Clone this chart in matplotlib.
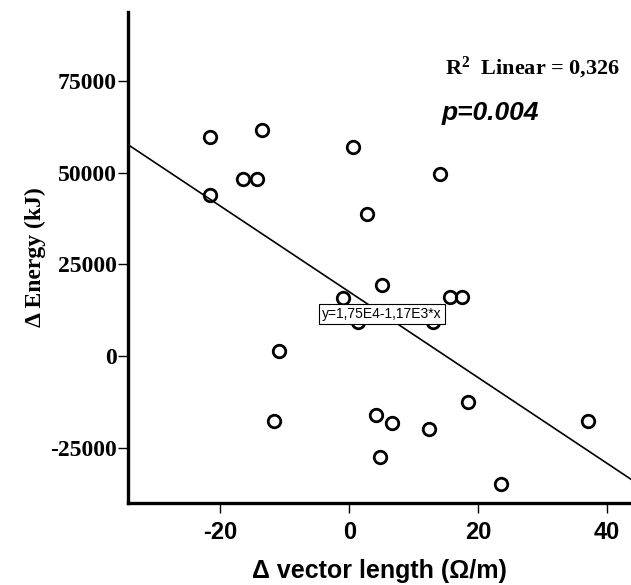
import matplotlib
matplotlib.use("Agg")
import matplotlib.pyplot as plt
import numpy as np

plt.rcParams['mathtext.fontset'] = 'custom'
plt.rcParams['mathtext.rm'] = 'Liberation Serif:bold'
plt.rcParams['mathtext.it'] = 'Liberation Serif:bold'
plt.rcParams['mathtext.bf'] = 'Liberation Serif:bold'

# Data
vector_length = [-21.6, -21.6, -16.4, -14.3, -13.5, 0.6, 2.8, 14.1, 5.1, -0.9, 1.4,
                 13.0, 15.7, 17.5, -10.9, -11.6, 4.2, 6.7, 12.4, 18.4, 37.1, 4.8, 23.6]
energy = [59800, 43900, 48200, 48200, 61600, 57000, 38700, 49600, 19300, 15700, 9300,
          9300, 16100, 16100, 1400, -17700, -16100, -18300, -19900, -12500, -17700,
          -27500, -34900]
intercept = 1.75e4
slope = -1.17e3
r2_text = r"R$^{2}$  Linear = 0,326"
p_text = "p=0.004"
eq_text = "y=1,75E4-1,17E3*x"
x_ticks = [-20, 0, 20, 40]
y_ticks = [-25000, 0, 25000, 50000, 75000]

fig = plt.figure(figsize=(6.31, 5.85), dpi=100)
ax = fig.add_axes([128/631, 82/585, 1 - 128/631, (503-12)/585])
xlim = (-34.3, 43.7)
ylim = (-40100, 93800)
ax.set_xlim(*xlim)
ax.set_ylim(*ylim)

xl = np.array(xlim)
ax.plot(xl, intercept + slope * xl, color='black', lw=1.2, zorder=2)
ax.plot(vector_length, energy, linestyle='none', marker='o', markersize=9,
        markerfacecolor='none', markeredgecolor='black', markeredgewidth=2.0, zorder=3)

for s in ['top', 'right']:
    ax.spines[s].set_visible(False)
for s in ['left', 'bottom']:
    ax.spines[s].set_linewidth(2.4)

ax.set_xticks(x_ticks)
ax.set_yticks(y_ticks)
ax.tick_params(axis='both', direction='out', length=7, width=1.0, colors='black')
ax.set_xticklabels([str(t) for t in x_ticks], family='Liberation Sans', fontweight='bold', fontsize=17)
ax.set_yticklabels([str(t) for t in y_ticks], family='Liberation Serif', fontweight='bold', fontsize=17)
ax.tick_params(axis='x', pad=6)
ax.tick_params(axis='y', pad=1)

ax.set_xlabel("\u0394 vector length (\u03a9/m)", family='Liberation Sans', fontweight='bold',
              fontsize=18, labelpad=11)
ax.set_ylabel("\u0394 Energy (kJ)", family='Liberation Serif', fontweight='bold', fontsize=17,
              labelpad=3)

fig.text(445/631, 1 - 68/585, r2_text, family='Liberation Serif', fontweight='bold',
         fontsize=16, va='center', ha='left')
fig.text(442/631, 1 - 113/585, p_text, family='Liberation Sans', fontweight='bold',
         style='italic', fontsize=19, va='center', ha='left')
fig.text(382/631, 1 - 314/585, eq_text, family='Liberation Sans', fontsize=10,
         va='center', ha='center',
         bbox=dict(boxstyle='square,pad=0.25', facecolor='white', edgecolor='black', linewidth=0.8),
         zorder=5)

fig.savefig("out.png", dpi=100)
